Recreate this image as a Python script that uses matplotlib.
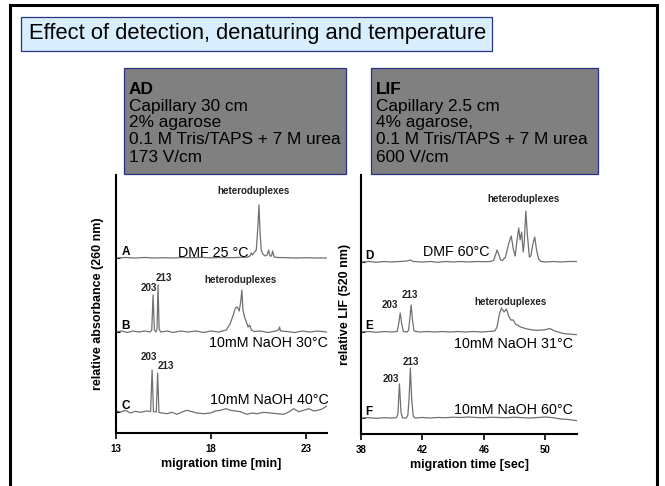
#importing the required libraries
import matplotlib
matplotlib.use('Agg')
from matplotlib import pyplot as plt
from matplotlib.patches import Rectangle

plt.rcParams['font.family'] = ['Liberation Sans', 'DejaVu Sans']

# ---------------- data ----------------
title = 'Effect of detection, denaturing and temperature'
ad_lines = ['AD', 'Capillary 30 cm', '2% agarose', '0.1 M Tris/TAPS + 7 M urea', '173 V/cm']
lif_lines = ['LIF', 'Capillary 2.5 cm', '4% agarose,', '0.1 M Tris/TAPS + 7 M urea', '600 V/cm']

# left panel (absorbance detection), time in minutes
ad_ticks = [13, 18, 23]
ad_offsets = [175, 101, 21]   # baseline level of traces A, B, C
ad_letters = ['A', 'B', 'C']
ad_conditions = ['DMF 25 °C', '10mM NaOH 30°C', '10mM NaOH 40°C']
ad_cond_pos = [(19.96, 180), (24.12, 90), (24.17, 33)]   # right end / level of condition text

t_a = [13.0, 13.5, 14.0, 14.5, 15.0, 15.5, 16.0, 16.5, 17.0, 17.5, 18.0, 18.5, 19.0, 19.5, 19.9,
       20.05, 20.12, 20.18, 20.25, 20.38, 20.46, 20.52, 20.58, 20.64, 20.72, 20.85, 20.95, 21.03,
       21.1, 21.18, 21.24, 21.32, 21.5, 22.0, 22.5, 23.0, 23.5, 24.1]
s_a = [0, 0.5, 0, 0.5, 0, 0.3, 0, 0.5, 0.2, 0.6, 0.2, 0.5, 0.3, 0.6, 0.8,
       2, 5, 3, 5, 8, 30, 53, 25, 8, 4, 2, 3, 8,
       2, 2, 7, 1, 0.5, 0.3, 0, 0.3, 0, 0]

t_b = [13.0, 13.3, 13.6, 13.9, 14.2, 14.5, 14.8, 14.88, 14.95, 15.02, 15.1, 15.16, 15.21, 15.27,
       15.35, 15.7, 16.0, 16.4, 16.8, 17.2, 17.6, 18.0, 18.4, 18.8, 19.0, 19.15, 19.28, 19.38,
       19.48, 19.56, 19.62, 19.68, 19.76, 19.86, 19.95, 20.03, 20.12, 20.3, 20.6, 21.0, 21.4,
       21.55, 21.6, 21.66, 22.0, 22.4, 22.8, 23.2, 23.6, 24.1]
s_b = [0, 1, -0.5, 1, 0, 1, 0, 2, 37, 2, 0, 3, 47, 3,
       0, 1, -0.5, 1, 0, 1, -0.5, 1, 0, 2, 8, 16, 24, 25,
       21, 30, 42, 22, 15, 10, 5, 7, 2, 0.5, 1, -0.5, 1,
       2, 5, 1, 0.5, -0.5, 1, 0, 1, 0]

t_c = [13.02, 13.23, 13.49, 13.75, 14.02, 14.28, 14.63, 14.82, 14.9, 14.97, 15.12, 15.19, 15.26,
       15.42, 15.68, 15.95, 16.21, 16.47, 16.74, 17.0, 17.26, 17.61, 17.96, 18.23, 18.49, 18.8,
       19.02, 19.28, 19.54, 19.89, 20.16, 20.42, 20.77, 21.12, 21.47, 21.82, 22.08, 22.35, 22.61,
       22.87, 23.14, 23.4, 23.61, 23.84, 24.07]
s_c = [1, 0, 1.7, -1, 0.7, -0.3, 1, 0.5, 42, 0.5, 0, 39, -0.5,
       -1, -1.7, -0.3, -2.3, 0, 1.7, 0.3, -1, -1.7, -1, 1, 1.7, 3.3,
       1.7, 1, 0.3, -2.3, -1, -1.7, -0.3, -1, -1.7, -2.3, 0, 3.3, 0.3,
       1.7, 3.3, 1, 1.7, 3, 5.7]

# right panel (laser induced fluorescence), time in seconds
lif_ticks = [38, 42, 46, 50]
lif_offsets = [172, 102, 16]  # baseline level of traces D, E, F
lif_letters = ['D', 'E', 'F']
lif_conditions = ['DMF 60°C', '10mM NaOH 31°C', '10mM NaOH 60°C']
lif_cond_pos = [(46.35, 182), (51.78, 90), (51.78, 24)]

t_d = [38.0, 38.5, 39.0, 39.5, 40.0, 40.5, 41.0, 41.2, 41.4, 42.0, 42.5, 43.0, 43.5, 44.0, 44.5,
       45.0, 45.5, 46.0, 46.4, 46.62, 46.75, 46.85, 46.95, 47.08, 47.2, 47.4, 47.6, 47.77, 47.92,
       48.03, 48.15, 48.26, 48.35, 48.45, 48.55, 48.62, 48.72, 48.82, 48.95, 49.05, 49.18, 49.3,
       49.42, 49.55, 49.7, 50.0, 50.5, 51.0, 51.5, 52.05]
s_d = [0, 0.5, -0.3, 0.5, 0, 0.5, 1, 2, 0.5, 0, 0.5, -0.3, 0.5, 0, 0.5,
       0, 0.5, 0.3, 0.5, 1.5, 7, 12, 8, 2, 1.5, 5, 18, 26, 12,
       6, 22, 34, 22, 30, 10, 20, 51, 28, 5, 6, 18, 25,
       12, 3, 0.5, 0, 0.5, 0, 0.5, 0.5]

t_e = [38.0, 38.5, 39.0, 39.5, 40.0, 40.35, 40.45, 40.55, 40.65, 40.75, 41.0, 41.1, 41.18, 41.26,
       41.35, 41.45, 41.8, 42.3, 42.8, 43.3, 43.8, 44.3, 44.8, 45.3, 45.8, 46.3, 46.7, 46.85,
       47.0, 47.14, 47.3, 47.46, 47.6, 47.75, 47.9, 48.05, 48.38, 48.8, 49.2, 49.46, 49.9,
       50.28, 50.6, 51.2, 52.05]
s_e = [0, 0.5, -0.3, 0.5, 0, 0.5, 8, 19, 8, 0.5, 0, 2, 14, 27,
       12, 1, 0, 0.5, 0, 0.5, 0, 0.5, 0, 0.5, 0, 0.5, 1, 5,
       18, 24, 20, 23, 16, 12, 12, 8, 5, 3, 2, 1.7, 2,
       3.5, 1, -1.7, -2.7]

t_f = [38.0, 38.5, 39.0, 39.5, 40.0, 40.3, 40.4, 40.5, 40.6, 40.7, 40.95, 41.05, 41.13, 41.21,
       41.3, 41.4, 41.5, 42.0, 42.5, 43.0, 43.5, 44.0, 44.5, 45.0, 45.5, 46.0, 46.5, 47.0, 47.5,
       48.0, 48.5, 49.0, 49.5, 50.0, 50.5, 51.0, 51.5, 52.05]
s_f = [0, 0.3, -0.3, 0.3, 0, 0.3, 4, 34, 6, 0, 0, 3, 20, 50,
       18, 2, 0, 0.5, 0, 0.5, 0.3, 0.8, 0.5, 1, 0.5, 0.3, 0.8, 0.5, 0.3,
       0.8, 0.3, 0, 0.5, 1, 0.3, -1, -1.5, -2.7]

# peak labels: (text, time, level) for each panel
ad_notes = [('heteroduplexes', 20.21, 242), ('203', 14.7, 145), ('213', 15.49, 155),
            ('heteroduplexes', 19.54, 153), ('203', 14.7, 76), ('213', 15.6, 67)]
lif_notes = [('heteroduplexes', 48.54, 235), ('203', 39.9, 129), ('213', 41.2, 139),
             ('heteroduplexes', 47.7, 132), ('203', 39.96, 55), ('213', 41.21, 72)]

W, H = 665, 486
fig = plt.figure(figsize=(W / 100, H / 100), dpi=100)


def fig_rect(x0, y0, x1, y1):
    # pixel box (top-left origin) -> figure fraction [left, bottom, width, height]
    return [x0 / W, 1 - y1 / H, (x1 - x0) / W, (y1 - y0) / H]


def add_box(x0, y0, x1, y1, face, edge, lw):
    l, b, w, h = fig_rect(x0, y0, x1, y1)
    fig.patches.append(Rectangle((l, b), w, h, transform=fig.transFigure,
                                 facecolor=face, edgecolor=edge, linewidth=lw, zorder=0))


# slide frame, title box and the two grey info boxes
add_box(10, 5, 657, 520, 'none', 'black', 2.2)
add_box(21, 17, 492, 51, '#d8eefc', '#26348a', 0.9)
fig.text(29 / W, 1 - 34 / H, title, fontsize=15.8, va='center', ha='left')
for x0, x1, lines in [(124, 346, ad_lines), (371, 598, lif_lines)]:
    add_box(x0, 68, x1, 174, '#808080', '#2a2f85', 0.9)
    for i, line in enumerate(lines):
        fig.text((x0 + 5) / W, 1 - (89 + 17 * i) / H, line, fontsize=12.4, va='center',
                 fontweight='bold' if i == 0 else 'normal')


def draw_panel(rect, xlim, ylim, ticks, traces, offsets, letters, conditions, cond_pos, letter_x,
               notes, xlabel, ylabel, ylab_x):
    ax = fig.add_axes(fig_rect(*rect))
    for (t, s), off in zip(traces, offsets):
        ax.plot(t, [v + off for v in s], color='#707070', linewidth=0.9)
    for off, letter in zip(offsets, letters):
        ax.text(letter_x, off + 6, letter, fontsize=8.5, fontweight='bold', va='center', ha='left')
    for cond, (cx, cy) in zip(conditions, cond_pos):
        ax.text(cx, cy, cond, fontsize=10.3, va='center', ha='right')
    for txt, x, y in notes:
        ax.text(x, y, txt, fontsize=7, fontweight='bold', ha='center', va='center', color='#222222')
    ax.set_xlim(*xlim)
    ax.set_ylim(*ylim)
    ax.set_xticks(ticks)
    ax.set_yticks(offsets)
    ax.set_yticklabels([])
    for side in ['top', 'right']:
        ax.spines[side].set_visible(False)
    for side in ['left', 'bottom']:
        ax.spines[side].set_linewidth(1.5)
    ax.tick_params(axis='x', direction='out', length=4, width=1.2, pad=4, labelsize=7)
    ax.tick_params(axis='y', direction='in', length=3, width=0.8)
    for lab in ax.get_xticklabels():
        lab.set_fontweight('bold')
    ax.set_xlabel(xlabel, fontsize=9, fontweight='bold')
    ax.xaxis.set_label_coords(0.5, -0.095)
    ax.set_ylabel(ylabel, fontsize=9, fontweight='bold')
    ax.yaxis.set_label_coords(ylab_x, 0.5)
    ax.patch.set_alpha(0)
    return ax


draw_panel((116, 175, 327, 433), (13, 24.1), (0, 258), ad_ticks,
           [(t_a, s_a), (t_b, s_b), (t_c, s_c)], ad_offsets, ad_letters, ad_conditions,
           ad_cond_pos, 13.3, ad_notes, 'migration time [min]', 'relative absorbance (260 nm)', -0.057)
draw_panel((361, 175, 577, 434), (38, 52.05), (0, 259), lif_ticks,
           [(t_d, s_d), (t_e, s_e), (t_f, s_f)], lif_offsets, lif_letters, lif_conditions,
           lif_cond_pos, 38.3, lif_notes, 'migration time [sec]', 'relative LIF (520 nm)', -0.048)

fig.savefig('out.png', dpi=100)
